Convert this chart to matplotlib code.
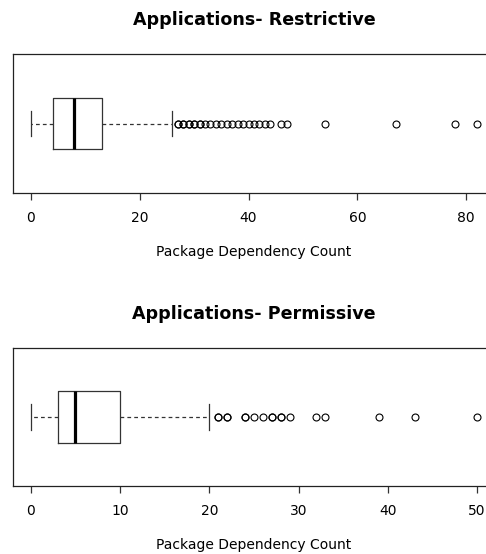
import matplotlib
matplotlib.use("Agg")
import matplotlib.pyplot as plt

# box statistics
titles = ["Applications- Restrictive", "Applications- Permissive"]
restrictive = dict(whislo=0, q1=4, med=8, q3=13, whishi=26,
                   fliers=[27, 27, 28, 28, 29, 29, 30, 30, 31, 31, 32, 33, 34, 35,
                           36, 37, 38, 39, 40, 41, 42, 43, 44, 46, 47, 54, 67, 78, 82])
permissive = dict(whislo=0, q1=3, med=5, q3=10, whishi=20,
                  fliers=[21, 21, 22, 22, 24, 24, 25, 26, 27, 27, 28, 28, 29,
                          32, 33, 39, 43, 50])
xlims = [(-3.28, 85.28), (-2.0, 52.0)]
xticks = [[0, 20, 40, 60, 80], [0, 10, 20, 30, 40, 50]]
xlabel = "Package Dependency Count"

W, H = 486, 554
fig = plt.figure(figsize=(W / 100, H / 100), dpi=100)

boxes = [(54, 193), (348, 486)]
stats = [restrictive, permissive]

for i in range(2):
    top, bot = boxes[i]
    ax = fig.add_axes([13 / W, 1 - bot / H, (495 - 13) / W, (bot - top) / H])
    st = dict(stats[i])
    st["label"] = ""
    ax.bxp([st], vert=False, widths=0.4, positions=[1],
           boxprops=dict(color="#333333", linewidth=0.9),
           whiskerprops=dict(color="#333333", linewidth=0.9, linestyle=(0, (3, 2.5))),
           capprops=dict(color="#333333", linewidth=0.9),
           medianprops=dict(color="black", linewidth=2.3),
           flierprops=dict(marker="o", markersize=5, markerfacecolor="none",
                           markeredgecolor="black", markeredgewidth=0.8))
    ax.set_ylim(0.46, 1.54)
    ax.set_xlim(*xlims[i])
    ax.set_yticks([])
    ax.set_xticks(xticks[i])
    ax.tick_params(axis="x", length=5, width=0.9, labelsize=10, pad=8, color="#333333")
    for s in ax.spines.values():
        s.set_linewidth(0.9)
        s.set_color("#222222")
    ax.spines["right"].set_visible(False)
    ax.set_title(titles[i], fontsize=12.6, fontweight="bold", pad=21)
    ax.set_xlabel(xlabel, fontsize=10, labelpad=14)

fig.savefig("out.png", dpi=100)
